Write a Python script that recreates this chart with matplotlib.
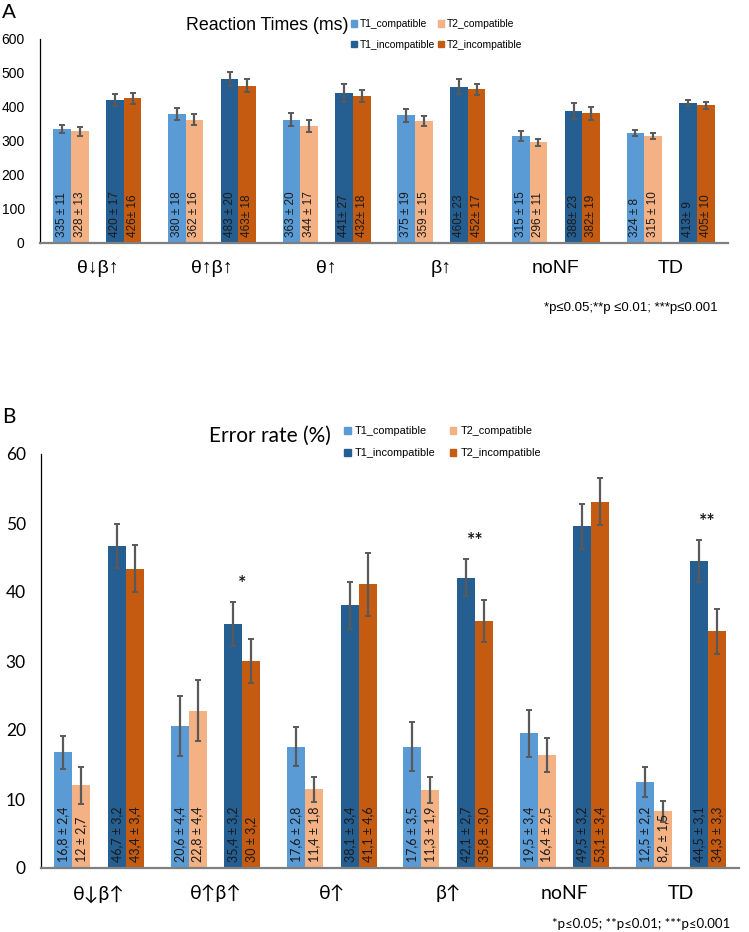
import matplotlib
matplotlib.use('Agg')
import matplotlib.pyplot as plt
from matplotlib.patches import Patch
import numpy as np

# ---------------- data ----------------
groups = ['θ↓β↑', 'θ↑β↑', 'θ↑', 'β↑', 'noNF', 'TD']
series_names = ['T1_compatible', 'T2_compatible', 'T1_incompatible', 'T2_incompatible']

# Reaction times (ms)
rt_t1c = [335, 380, 363, 375, 315, 324]
rt_t2c = [328, 362, 344, 359, 296, 315]
rt_t1i = [420, 483, 441, 460, 388, 413]
rt_t2i = [426, 463, 432, 452, 382, 405]
rt_t1c_err = [11, 18, 20, 19, 15, 8]
rt_t2c_err = [13, 16, 17, 15, 11, 10]
rt_t1i_err = [17, 20, 27, 23, 23, 9]
rt_t2i_err = [16, 18, 18, 17, 19, 10]
rt_t1c_lab = ['335 ± 11', '380 ± 18', '363 ± 20', '375 ± 19', '315 ± 15', '324 ± 8']
rt_t2c_lab = ['328 ± 13', '362 ± 16', '344 ± 17', '359 ± 15', '296 ± 11', '315 ± 10']
rt_t1i_lab = ['420 ± 17', '483 ± 20', '441± 27', '460± 23', '388± 23', '413± 9']
rt_t2i_lab = ['426± 16', '463± 18', '432± 18', '452± 17', '382± 19', '405± 10']
rt_yticks = [0, 100, 200, 300, 400, 500, 600]

# Error rate (%)
er_t1c = [16.8, 20.6, 17.6, 17.6, 19.5, 12.5]
er_t2c = [12.0, 22.8, 11.4, 11.3, 16.4, 8.2]
er_t1i = [46.7, 35.4, 38.1, 42.1, 49.5, 44.5]
er_t2i = [43.4, 30.0, 41.1, 35.8, 53.1, 34.3]
er_t1c_err = [2.4, 4.4, 2.8, 3.5, 3.4, 2.2]
er_t2c_err = [2.7, 4.4, 1.8, 1.9, 2.5, 1.5]
er_t1i_err = [3.2, 3.2, 3.4, 2.7, 3.2, 3.1]
er_t2i_err = [3.4, 3.2, 4.6, 3.0, 3.4, 3.3]
er_t1c_lab = ['16,8 ± 2,4', '20,6 ± 4,4', '17,6 ± 2,8', '17,6 ± 3,5', '19,5 ± 3,4', '12,5 ± 2,2']
er_t2c_lab = ['12 ± 2,7', '22,8 ± 4,4', '11,4 ± 1,8', '11,3 ± 1,9', '16,4 ± 2,5', '8,2 ± 1,5']
er_t1i_lab = ['46,7 ± 3,2', '35,4 ± 3,2', '38,1 ± 3,4', '42,1 ± 2,7', '49,5 ± 3,2', '44,5 ± 3,1']
er_t2i_lab = ['43,4 ± 3,4', '30 ± 3,2', '41,1 ± 4,6', '35,8 ± 3,0', '53,1 ± 3,4', '34,3 ± 3,3']
er_sig = ['', '*', '', '**', '', '**']
er_yticks = [0, 10, 20, 30, 40, 50, 60]

colors = {'T1_compatible': '#5B9BD5', 'T2_compatible': '#F4B183',
          'T1_incompatible': '#255E91', 'T2_incompatible': '#C55A11'}

# ---------------- styling ----------------
F_TOP = ['Liberation Sans', 'DejaVu Sans']
F_BOT = ['Lato', 'DejaVu Sans']

fig = plt.figure(figsize=(7.49, 9.32), dpi=100)

W = 0.154
offsets = [-2 * W, -1 * W, 1 * W, 2 * W]
x = np.arange(len(groups))


def draw_panel(ax, vals, errs, labs, yticks, tickfont, tickfs, catfont, catfs, labfont, labfs):
    for s, (v, e, l, off) in enumerate(zip(vals, errs, labs, offsets)):
        name = series_names[s]
        ax.bar(x + off, v, W, color=colors[name], label=name, zorder=2)
        ax.errorbar(x + off, v, yerr=e, fmt='none', ecolor='#595959', elinewidth=1.6,
                    capsize=2.2, capthick=1.4, zorder=3)
        for xi, lab in zip(x + off, l):
            ax.annotate(lab, (xi, 0), xytext=(0, 4), textcoords='offset points',
                        rotation=90, ha='center', va='bottom', fontsize=labfs,
                        family=labfont, color='#1a1a1a', zorder=4)
    ax.set_xlim(-0.5, 5.5)
    ax.set_ylim(yticks[0], yticks[-1])
    ax.set_yticks(yticks)
    ax.set_yticklabels([str(t) for t in yticks], family=tickfont, fontsize=tickfs)
    ax.set_xticks(x)
    ax.set_xticklabels(groups, family=catfont, fontsize=catfs)
    ax.tick_params(axis='both', length=0)
    ax.tick_params(axis='y', pad=11)
    ax.tick_params(axis='x', pad=12)
    for sp in ['top', 'right']:
        ax.spines[sp].set_visible(False)
    ax.spines['left'].set_color('#000000')
    ax.spines['left'].set_linewidth(0.9)
    ax.spines['bottom'].set_color('#7f7f7f')
    ax.spines['bottom'].set_linewidth(1.6)


# ---- Panel A ----
axA = fig.add_axes([40 / 749, 1 - 243 / 932, (728 - 40) / 749, (243 - 39) / 932])
draw_panel(axA, [rt_t1c, rt_t2c, rt_t1i, rt_t2i],
           [rt_t1c_err, rt_t2c_err, rt_t1i_err, rt_t2i_err],
           [rt_t1c_lab, rt_t2c_lab, rt_t1i_lab, rt_t2i_lab],
           rt_yticks, F_TOP, 10, F_TOP, 14, F_TOP, 8.5)

fig.text(267 / 749, 1 - 26 / 932, 'Reaction Times (ms)', family=F_TOP, fontsize=12.8,
         ha='center', va='center')
fig.text(2 / 749, 1 - 12 / 932, 'A', family=F_TOP, fontsize=15, ha='left', va='center')
fig.text(718 / 749, 1 - 308 / 932, '*p≤0.05;**p ≤0.01; ***p≤0.001', family=F_TOP,
         fontsize=9.5, ha='right', va='center')

handles = [Patch(color=colors[n]) for n in series_names]
leg_order = [0, 2, 1, 3]
fig.legend([handles[i] for i in leg_order], [series_names[i] for i in leg_order],
           loc='upper left', bbox_to_anchor=(351 / 749, 1 - 19 / 932), ncol=2,
           frameon=False, prop={'family': F_TOP, 'size': 7.4},
           handlelength=0.6, handleheight=0.6, handletextpad=0.3,
           columnspacing=0.2, labelspacing=1.05, borderpad=0, borderaxespad=0)

# ---- Panel B ----
axB = fig.add_axes([41 / 749, 1 - 868 / 932, (739 - 41) / 749, (868 - 454) / 932])
draw_panel(axB, [er_t1c, er_t2c, er_t1i, er_t2i],
           [er_t1c_err, er_t2c_err, er_t1i_err, er_t2i_err],
           [er_t1c_lab, er_t2c_lab, er_t1i_lab, er_t2i_lab],
           er_yticks, F_BOT, 12.5, F_BOT, 14, F_BOT, 9)

for xi, sig, v, e in zip(x, er_sig, er_t1i, er_t1i_err):
    if sig:
        axB.annotate(sig, (xi + 1.5 * W, v + e), xytext=(0, 13), textcoords='offset points',
                     ha='center', va='center', fontsize=14, fontweight='bold',
                     family=F_BOT, color='#1a1a1a')

fig.text(270 / 749, 1 - 436 / 932, 'Error rate (%)', family=F_BOT, fontsize=15,
         ha='center', va='center')
fig.text(2 / 749, 1 - 417 / 932, 'B', family=F_BOT, fontsize=15, ha='left', va='center')
fig.text(730 / 749, 1 - 924 / 932, '*p≤0.05; **p≤0.01; ***p≤0.001', family=F_BOT,
         fontsize=9.5, ha='right', va='center')

fig.legend([handles[i] for i in leg_order], [series_names[i] for i in leg_order],
           loc='upper left', bbox_to_anchor=(344 / 749, 1 - 426 / 932), ncol=2,
           frameon=False, prop={'family': F_TOP, 'size': 7.8},
           handlelength=0.6, handleheight=0.6, handletextpad=0.4,
           columnspacing=1.3, labelspacing=1.1, borderpad=0, borderaxespad=0)

fig.savefig('out.png', dpi=100, facecolor='white')
